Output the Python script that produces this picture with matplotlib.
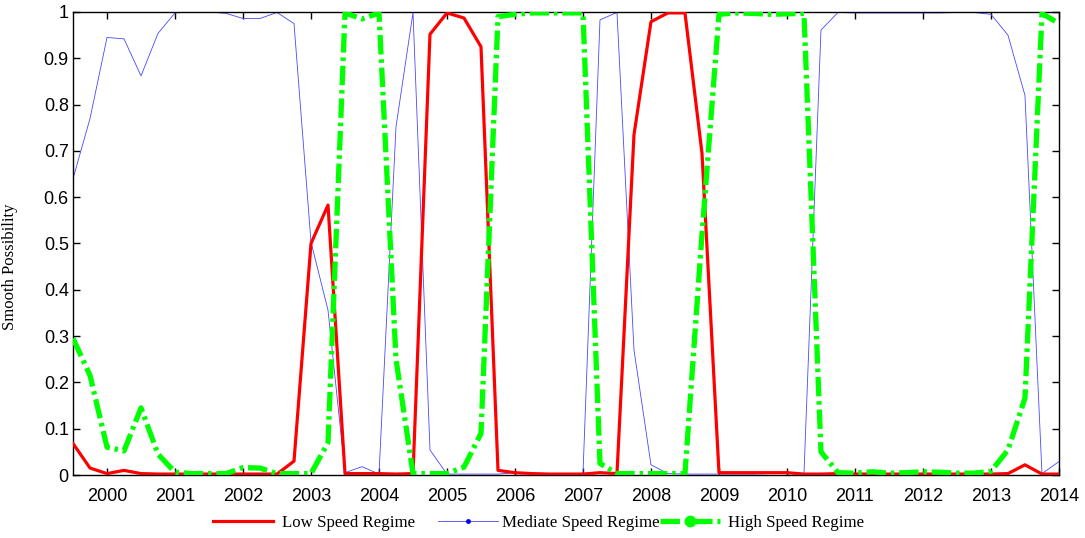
import numpy as np
import matplotlib
matplotlib.use("Agg")
import matplotlib.pyplot as plt
from matplotlib.lines import Line2D

# quarterly time axis, 1999Q3 .. 2014Q1
start_year = 1999.5
n_quarters = 59

low_speed = [0.068, 0.015, 0.003, 0.010, 0.003, 0.002, 0.002, 0.002, 0.002, 0.002,
             0.002, 0.002, 0.002, 0.030, 0.500, 0.583, 0.003, 0.003, 0.003, 0.002,
             0.003, 0.952, 0.998, 0.987, 0.925, 0.010, 0.005, 0.003, 0.002, 0.002,
             0.002, 0.005, 0.003, 0.735, 0.979, 0.998, 0.998, 0.695, 0.005, 0.005,
             0.005, 0.005, 0.005, 0.002, 0.002, 0.003, 0.002, 0.002, 0.002, 0.002,
             0.002, 0.002, 0.002, 0.002, 0.002, 0.003, 0.022, 0.002, 0.002]

mediate_speed = [0.640, 0.770, 0.945, 0.942, 0.862, 0.954, 0.998, 1.000, 1.000, 0.997,
                 0.986, 0.986, 0.999, 0.975, 0.503, 0.356, 0.005, 0.018, 0.002, 0.752,
                 0.999, 0.054, 0.002, 0.002, 0.002, 0.002, 0.005, 0.003, 0.002, 0.002,
                 0.003, 0.983, 0.999, 0.270, 0.022, 0.003, 0.002, 0.002, 0.002, 0.002,
                 0.002, 0.003, 0.004, 0.003, 0.961, 0.999, 0.998, 0.998, 0.998, 0.998,
                 0.998, 0.998, 0.999, 0.999, 0.995, 0.950, 0.820, 0.003, 0.029]

high_speed = [0.295, 0.215, 0.060, 0.052, 0.145, 0.045, 0.006, 0.003, 0.003, 0.003,
              0.016, 0.015, 0.003, 0.003, 0.003, 0.070, 0.998, 0.985, 0.998, 0.250,
              0.003, 0.003, 0.003, 0.017, 0.090, 0.990, 0.995, 0.998, 0.998, 0.998,
              0.998, 0.025, 0.003, 0.003, 0.003, 0.003, 0.003, 0.520, 0.995, 0.998,
              0.997, 0.995, 0.996, 0.997, 0.050, 0.005, 0.004, 0.007, 0.004, 0.005,
              0.007, 0.006, 0.004, 0.004, 0.008, 0.054, 0.166, 0.997, 0.975]

years = list(range(2000, 2015))
y_ticks = [0, 0.1, 0.2, 0.3, 0.4, 0.5, 0.6, 0.7, 0.8, 0.9, 1]
labels = ["Low Speed Regime", "Mediate Speed Regime", "High Speed Regime"]

t = start_year + 0.25 * np.arange(n_quarters)

plt.rcParams["lines.scale_dashes"] = False
green_dash = (0, (14, 3.5, 2.5, 3.5))

fig = plt.figure(figsize=(10.85, 5.38), dpi=100)
ax = fig.add_axes([0.0673, 0.1171, 0.9087, 0.8606])

ax.plot(t, low_speed, color="#ff0000", lw=2.3, zorder=3)
ax.plot(t, mediate_speed, color="#4848ff", lw=0.6, zorder=2)
ax.plot(t, high_speed, color="#00ff00", lw=3.8, linestyle=green_dash, zorder=4)

ax.set_xlim(start_year, 2014)
ax.set_ylim(0, 1)
ax.set_xticks(years)
ax.set_xticklabels([str(y) for y in years])
ax.set_yticks(y_ticks)
ax.set_yticklabels(["%g" % v for v in y_ticks])

for lab in ax.get_xticklabels() + ax.get_yticklabels():
    lab.set_fontfamily("Liberation Sans")
    lab.set_fontsize(13)

ax.tick_params(direction="in", top=True, right=True, length=5, width=1)
ax.tick_params(axis="x", pad=9)
ax.tick_params(axis="y", pad=3)
for sp in ax.spines.values():
    sp.set_linewidth(1.0)

ax.set_ylabel("Smooth Possibility", family="Liberation Serif", fontsize=12)
ax.yaxis.set_label_coords(-0.056, 0.449)

handles = [
    Line2D([], [], color="#ff0000", lw=2.3),
    Line2D([], [], color="#4848ff", lw=0.6, marker=".", markersize=5,
           markerfacecolor="#0000ff", markeredgecolor="#0000ff"),
    Line2D([], [], color="#00ff00", lw=3.8, linestyle=green_dash,
           marker="o", markersize=7.5, markevery=[1]),
]

# equal-width legend columns, like the original
col_left = [213 / 1085, 438 / 1085, 660 / 1085]
text_pad = [0.5, 0.2, 0.45]
for h, lab, x0, tp in zip(handles, labels, col_left, text_pad):
    fig.legend([h], [lab], loc="center left", bbox_to_anchor=(x0, 0.028),
               frameon=False, prop={"family": "Liberation Serif", "size": 12.2},
               handlelength=3.55, handletextpad=tp, borderpad=0, borderaxespad=0)

fig.savefig("out.png", dpi=100)
